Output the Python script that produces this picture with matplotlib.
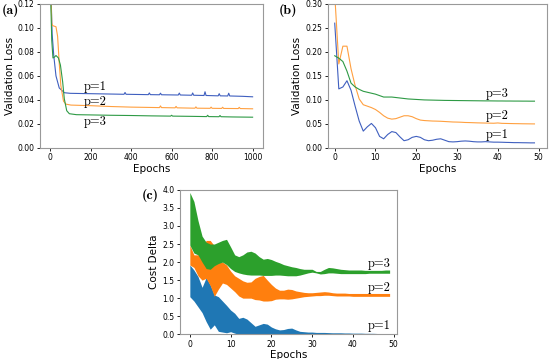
import matplotlib
matplotlib.use("Agg")
import matplotlib.pyplot as plt
import numpy as np

a1_ep = [0, 5, 10, 18, 29, 45, 70, 100, 200, 300, 365, 370, 375, 485, 490, 495, 540, 545, 550,
         633, 638, 643, 699, 704, 709, 760, 765, 770, 830, 835, 840, 877, 882, 887, 950, 1000]
a1_val = [0.16, 0.125, 0.095, 0.077, 0.060, 0.050, 0.046, 0.0455, 0.0452, 0.0449, 0.0447, 0.0462, 0.0447,
          0.0444, 0.0458, 0.0444, 0.0443, 0.0456, 0.0443, 0.0441, 0.0457, 0.0441, 0.0439, 0.0458, 0.0439,
          0.0437, 0.0468, 0.0437, 0.0434, 0.0452, 0.0434, 0.0433, 0.0456, 0.0433, 0.0430, 0.0426]

a2_ep = [0, 4, 8, 12, 20, 29, 37, 45, 53, 66, 78, 103, 200, 300, 400, 540, 545, 550, 617, 622, 627,
         715, 720, 725, 790, 795, 800, 847, 852, 857, 929, 934, 939, 1000]
a2_val = [0.16, 0.13, 0.104, 0.102, 0.1015, 0.101, 0.093, 0.071, 0.052, 0.039, 0.0365, 0.0357, 0.0352,
          0.0345, 0.0340, 0.0336, 0.0350, 0.0336, 0.0334, 0.0346, 0.0334, 0.0331, 0.0342, 0.0331,
          0.0330, 0.0340, 0.0330, 0.0329, 0.0339, 0.0329, 0.0328, 0.0338, 0.0328, 0.0326]

a3_ep = [0, 3, 8, 14, 20, 29, 41, 51, 62, 70, 82, 95, 130, 200, 300, 400, 500, 595, 600, 605,
         700, 773, 778, 783, 834, 839, 844, 900, 1000]
a3_val = [0.16, 0.125, 0.09, 0.075, 0.0755, 0.077, 0.075, 0.069, 0.055, 0.041, 0.031, 0.0285, 0.0277,
          0.0275, 0.0272, 0.0270, 0.0267, 0.0265, 0.0272, 0.0265, 0.0263, 0.0261, 0.0272, 0.0261,
          0.0260, 0.0270, 0.0260, 0.0258, 0.0256]

# ---- panel (b): validation loss, 50 epochs
b_ep = np.arange(50)
b1 = [0.26, 0.123, 0.127, 0.140, 0.120, 0.087, 0.056, 0.035, 0.044, 0.051,
      0.042, 0.024, 0.019, 0.028, 0.034, 0.032, 0.023, 0.015, 0.017, 0.022,
      0.024, 0.022, 0.017, 0.015, 0.016, 0.018, 0.019, 0.016, 0.013, 0.0125,
      0.013, 0.014, 0.0145, 0.014, 0.013, 0.0125, 0.0125, 0.013, 0.0125, 0.012,
      0.012, 0.0118, 0.0115, 0.0113, 0.011, 0.011, 0.0108, 0.0107, 0.0105, 0.0105]
b2 = [0.32, 0.175, 0.212, 0.212, 0.165, 0.130, 0.102, 0.090, 0.087, 0.084,
      0.080, 0.074, 0.067, 0.062, 0.060, 0.061, 0.064, 0.067, 0.067, 0.065,
      0.061, 0.058, 0.057, 0.0565, 0.056, 0.0558, 0.0555, 0.055, 0.0545, 0.054,
      0.0538, 0.0535, 0.053, 0.0528, 0.0525, 0.0522, 0.052, 0.0518, 0.0516, 0.0514,
      0.052, 0.0512, 0.051, 0.0508, 0.0506, 0.0505, 0.0503, 0.0502, 0.0501, 0.050]
b3 = [0.192, 0.187, 0.180, 0.160, 0.135, 0.127, 0.122, 0.118, 0.116, 0.114,
      0.112, 0.109, 0.106, 0.106, 0.106, 0.105, 0.104, 0.103, 0.102, 0.1015,
      0.101, 0.1005, 0.100, 0.0998, 0.0996, 0.0994, 0.0992, 0.099, 0.0989, 0.0988,
      0.0987, 0.0986, 0.0985, 0.0984, 0.0983, 0.0982, 0.0981, 0.098, 0.098, 0.0979,
      0.0978, 0.0978, 0.0977, 0.0977, 0.0976, 0.0976, 0.0975, 0.0975, 0.0974, 0.0974]

# ---- panel (c): cost delta bands (lower / upper)
c_ep = np.arange(50)
c1_hi = [1.92, 1.78, 1.60, 1.30, 1.57, 1.37, 1.09, 1.04, 0.92, 0.80,
         0.67, 0.58, 0.44, 0.47, 0.42, 0.32, 0.22, 0.26, 0.30, 0.28,
         0.20, 0.15, 0.12, 0.13, 0.16, 0.17, 0.12, 0.08, 0.07, 0.06,
         0.06, 0.05, 0.05, 0.05, 0.045, 0.04, 0.04, 0.04, 0.035, 0.035,
         0.03, 0.03, 0.03, 0.025, 0.025, 0.025, 0.02, 0.02, 0.02, 0.02]
c1_lo = [1.04, 0.92, 0.76, 0.60, 0.35, 0.14, 0.26, 0.08, 0.06, 0.04,
         0.07, 0.03, 0.0, 0.0, 0.0, 0.0, 0.0, 0.0, 0.0, 0.0,
         0.0, 0.0, 0.0, 0.0, 0.0, 0.0, 0.0, 0.0, 0.0, 0.0,
         0.0, 0.0, 0.0, 0.0, 0.0, 0.0, 0.0, 0.0, 0.0, 0.0,
         0.0, 0.0, 0.0, 0.0, 0.0, 0.0, 0.0, 0.0, 0.0, 0.0]
c2_hi = [2.47, 2.20, 2.20, 2.40, 2.60, 2.60, 2.45, 2.00, 2.00, 1.92,
         1.75, 1.62, 1.55, 1.48, 1.44, 1.45, 1.55, 1.60, 1.63, 1.50,
         1.38, 1.28, 1.22, 1.22, 1.25, 1.24, 1.20, 1.18, 1.16, 1.15,
         1.15, 1.16, 1.17, 1.18, 1.17, 1.15, 1.14, 1.14, 1.14, 1.13,
         1.13, 1.13, 1.13, 1.13, 1.13, 1.13, 1.13, 1.13, 1.13, 1.13]
c2_lo = [1.92, 1.85, 1.62, 1.50, 1.55, 1.35, 1.05, 1.25, 1.42, 1.38,
         1.28, 1.18, 1.06, 1.00, 1.00, 1.00, 0.96, 0.95, 0.92, 0.92,
         0.93, 0.97, 0.98, 0.98, 0.97, 0.98, 1.00, 1.02, 1.04, 1.05,
         1.06, 1.07, 1.07, 1.08, 1.08, 1.07, 1.06, 1.06, 1.06, 1.06,
         1.05, 1.05, 1.05, 1.05, 1.05, 1.05, 1.05, 1.05, 1.05, 1.05]
c3_hi = [3.93, 3.68, 3.15, 2.72, 2.55, 2.50, 2.50, 2.55, 2.60, 2.63,
         2.42, 2.20, 2.15, 2.20, 2.28, 2.30, 2.25, 2.15, 2.08, 2.10,
         2.07, 2.02, 1.98, 1.93, 1.90, 1.87, 1.85, 1.82, 1.80, 1.80,
         1.80, 1.74, 1.74, 1.80, 1.85, 1.84, 1.82, 1.80, 1.79, 1.78,
         1.78, 1.78, 1.78, 1.77, 1.77, 1.77, 1.77, 1.77, 1.78, 1.78]
c3_lo = [2.47, 2.25, 2.20, 2.00, 1.82, 1.80, 1.90, 1.96, 2.00, 1.93,
         1.82, 1.74, 1.70, 1.67, 1.65, 1.64, 1.64, 1.64, 1.63, 1.63,
         1.63, 1.64, 1.64, 1.63, 1.62, 1.62, 1.62, 1.64, 1.67, 1.70,
         1.72, 1.70, 1.67, 1.68, 1.70, 1.70, 1.69, 1.68, 1.68, 1.68,
         1.68, 1.68, 1.68, 1.68, 1.69, 1.69, 1.69, 1.69, 1.69, 1.69]

line_cols = ["#3f5fbf", "#ffa040", "#2e9a45"]
band_cols = ["#1f77b4", "#ff7f0e", "#2ca02c"]

tick_fs = 5.5
lab_fs = 7.5
p_fs = 9
panel_fs = 10


def style(ax):
    for s in ax.spines.values():
        s.set_color("#999999")
        s.set_linewidth(0.8)
    ax.tick_params(labelsize=tick_fs, length=2.5, width=0.6, pad=1.5)


def plabel(ax, x, y, n):
    ax.text(x, y, "p=%d" % n, fontsize=p_fs, family="cmr10", ha="center", va="center")


fig = plt.figure(figsize=(5.5, 3.59), dpi=100)

# (a)
ax = fig.add_axes([0.0727, 0.588, 0.405, 0.401])
ax.plot(a1_ep, a1_val, color=line_cols[0], lw=0.8)
ax.plot(a2_ep, a2_val, color=line_cols[1], lw=0.8)
ax.plot(a3_ep, a3_val, color=line_cols[2], lw=0.8)
ax.set_xlim(-50, 1050)
ax.set_ylim(0, 0.12)
ax.set_yticks(np.arange(0, 0.121, 0.02))
ax.set_xticks([0, 200, 400, 600, 800, 1000])
ax.set_xlabel("Epochs", fontsize=lab_fs, labelpad=1)
ax.set_ylabel("Validation Loss", fontsize=lab_fs, labelpad=2)
style(ax)
plabel(ax, 222, 0.0505, 1)
plabel(ax, 222, 0.0385, 2)
plabel(ax, 222, 0.0218, 3)
fig.text(0.003, 0.972, "(a)", fontsize=panel_fs, family="cmb10", ha="left", va="center")

# (b)
ax = fig.add_axes([0.596, 0.588, 0.398, 0.401])
ax.plot(b_ep, b1, color=line_cols[0], lw=0.8)
ax.plot(b_ep, b2, color=line_cols[1], lw=0.8)
ax.plot(b_ep, b3, color=line_cols[2], lw=0.8)
ax.set_xlim(-1.7, 52)
ax.set_ylim(0, 0.30)
ax.set_yticks(np.arange(0, 0.301, 0.05))
ax.set_xticks([0, 10, 20, 30, 40, 50])
ax.set_xlabel("Epochs", fontsize=lab_fs, labelpad=1)
ax.set_ylabel("Validation Loss", fontsize=lab_fs, labelpad=2)
style(ax)
plabel(ax, 39.8, 0.113, 3)
plabel(ax, 39.8, 0.066, 2)
plabel(ax, 39.8, 0.028, 1)
fig.text(0.507, 0.970, "(b)", fontsize=panel_fs, family="cmb10", ha="left", va="center")

# (c)
ax = fig.add_axes([0.327, 0.069, 0.394, 0.402])
ax.fill_between(c_ep, c1_lo, c1_hi, color=band_cols[0], lw=0)
ax.fill_between(c_ep, c2_lo, c2_hi, color=band_cols[1], lw=0)
ax.fill_between(c_ep, c3_lo, c3_hi, color=band_cols[2], lw=0)
ax.set_xlim(-2.45, 50.7)
ax.set_ylim(0, 4.0)
ax.set_yticks(np.arange(0, 4.01, 0.5))
ax.set_xticks([0, 10, 20, 30, 40, 50])
ax.set_xlabel("Epochs", fontsize=lab_fs, labelpad=1)
ax.set_ylabel("Cost Delta", fontsize=lab_fs, labelpad=2)
style(ax)
plabel(ax, 46.5, 1.94, 3)
plabel(ax, 46.5, 1.28, 2)
plabel(ax, 46.5, 0.23, 1)
fig.text(0.258, 0.456, "(c)", fontsize=panel_fs, family="cmb10", ha="left", va="center")

fig.savefig("out.png", dpi=100)
